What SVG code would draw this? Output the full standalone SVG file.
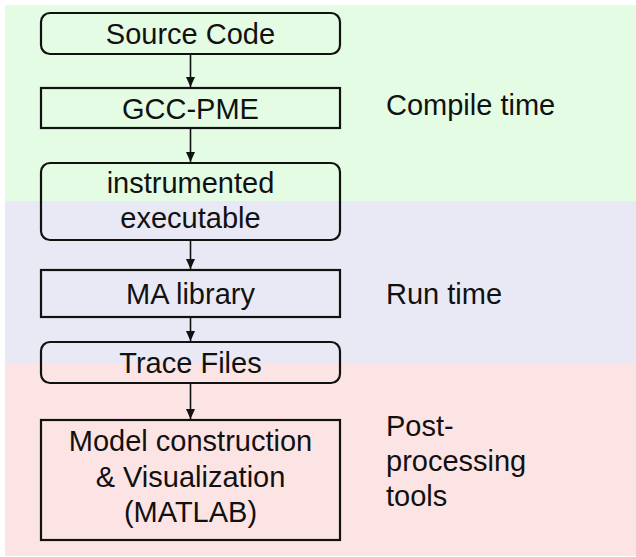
<svg xmlns="http://www.w3.org/2000/svg" width="636" height="557" viewBox="0 0 636 557">
<style>
.t{font-family:"Liberation Sans",Arial,Helvetica,sans-serif;font-size:29px;fill:#111;}
.c{text-anchor:middle;}
.b{fill:none;stroke:#111;stroke-width:2.2;}
.e{stroke:#111;stroke-width:1.6;fill:none;}
</style>
<defs>
<marker id="ah" viewBox="0 0 10 10" refX="10" refY="5" markerWidth="10" markerHeight="9" markerUnits="userSpaceOnUse" orient="auto" preserveAspectRatio="none">
<path d="M0,0 L10,5 L0,10 z" fill="#111"/>
</marker>
</defs>
<rect width="636" height="557" fill="#ffffff"/>
<g id="bands">
<rect x="5" y="5" width="631" height="196" fill="#e4fce4"/>
<rect x="5" y="201" width="631" height="163" fill="#e9e9f5"/>
<rect x="5" y="364" width="631" height="192" fill="#fde4e4"/>
</g>
<g id="labels">
<text class="t" x="386" y="115">Compile time</text>
<text class="t" x="386" y="304">Run time</text>
<text class="t" x="386" y="436">Post-</text>
<text class="t" x="386" y="471">processing</text>
<text class="t" x="386" y="506">tools</text>
</g>
<g id="n-source">
<rect class="b" x="41" y="13" width="299" height="41" rx="9"/>
<text class="t c" x="190.5" y="44">Source Code</text>
</g>
<g id="n-gcc">
<rect class="b" x="41" y="88" width="299" height="40"/>
<text class="t c" x="190.5" y="119">GCC-PME</text>
</g>
<g id="n-exec">
<rect class="b" x="41" y="163" width="299" height="77" rx="9"/>
<text class="t c" x="190.5" y="193">instrumented</text>
<text class="t c" x="190.5" y="228">executable</text>
</g>
<g id="n-ma">
<rect class="b" x="41" y="270" width="299" height="47"/>
<text class="t c" x="190.5" y="304">MA library</text>
</g>
<g id="n-trace">
<rect class="b" x="41" y="342" width="299" height="41" rx="9"/>
<text class="t c" x="190.5" y="373">Trace Files</text>
</g>
<g id="n-model">
<rect class="b" x="41" y="420" width="299" height="120"/>
<text class="t c" x="190.5" y="451">Model construction</text>
<text class="t c" x="190.5" y="487">&amp; Visualization</text>
<text class="t c" x="190.5" y="522">(MATLAB)</text>
</g>
<g id="connectors">
<line class="e" x1="190.5" y1="54" x2="190.5" y2="87" marker-end="url(#ah)"/>
<line class="e" x1="190.5" y1="128" x2="190.5" y2="162" marker-end="url(#ah)"/>
<line class="e" x1="190.5" y1="240" x2="190.5" y2="269" marker-end="url(#ah)"/>
<line class="e" x1="190.5" y1="317" x2="190.5" y2="341" marker-end="url(#ah)"/>
<line class="e" x1="190.5" y1="383" x2="190.5" y2="419" marker-end="url(#ah)"/>
</g>
</svg>
